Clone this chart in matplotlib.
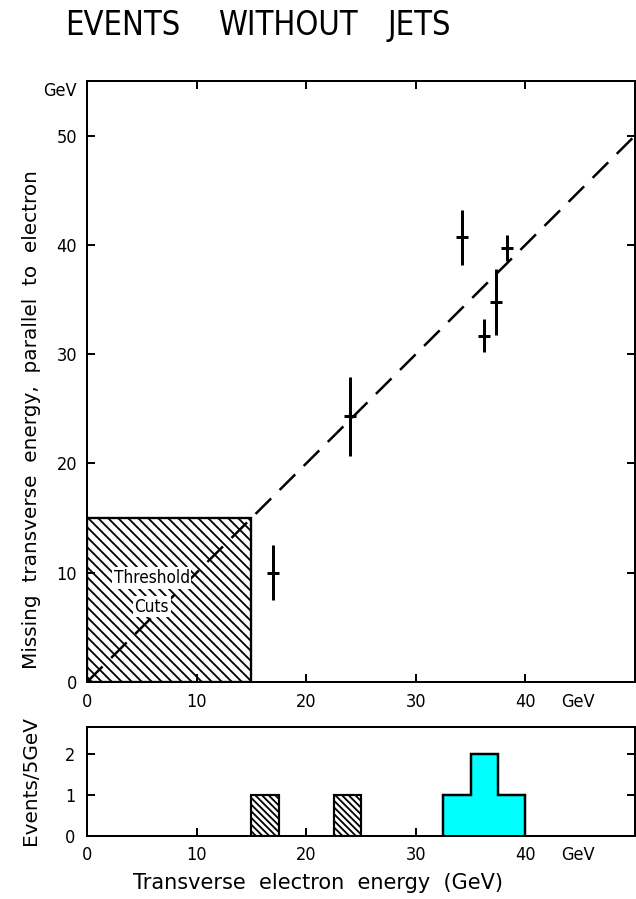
import matplotlib
matplotlib.use("Agg")
import matplotlib.pyplot as plt
import numpy as np

# ---------------- data ----------------
# scatter: transverse electron energy vs missing transverse energy (GeV)
ele_et = [17.0, 24.0, 34.2, 36.2, 37.3, 38.3]
miss_et = [10.0, 24.3, 40.7, 31.7, 34.8, 39.7]
miss_err = [2.5, 3.6, 2.5, 1.5, 3.0, 1.2]
ele_err = [0.55, 0.55, 0.55, 0.55, 0.55, 0.55]

# diagonal reference line
diag_x = [0, 50]
diag_y = [0, 50]

# threshold cut box (GeV)
cut_x = 15
cut_y = 15

# histogram: hatched (off-peak) and cyan (peak) bins
hatched_left = [15.0, 22.5]
hatched_counts = [1, 1]
bin_width = 2.5
peak_edges = [32.5, 35.0, 37.5, 40.0]
peak_counts = [1, 2, 1]

main_xticks = [0, 10, 20, 30, 40]
main_yticks = [0, 10, 20, 30, 40, 50]
hist_yticks = [0, 1, 2]

title_words = ["EVENTS", "WITHOUT", "JETS"]
ylabel_main = "Missing  transverse  energy,  parallel  to  electron"
ylabel_hist = "Events/5GeV"
xlabel_hist = "Transverse  electron  energy  (GeV)"

# ---------------- style ----------------
BS = chr(92)
DPI = 120
plt.rcParams['font.family'] = ['DejaVu Sans']
plt.rcParams['font.stretch'] = 'condensed'
plt.rcParams['hatch.linewidth'] = 1.1
plt.rcParams['axes.linewidth'] = 1.2

fig = plt.figure(figsize=(636 / DPI, 899 / DPI), dpi=DPI)
W, H = 636.0, 899.0

ax = fig.add_axes([87 / W, (H - 682) / H, 548 / W, (682 - 81) / H])
axh = fig.add_axes([87 / W, (H - 836) / H, 548 / W, (836 - 727) / H])

tick_fs = 10.8

# ---- main panel ----
ax.set_xlim(0, 50)
ax.set_ylim(0, 55)
ax.add_patch(plt.Rectangle((0, 0), cut_x, cut_y, facecolor='white',
                           edgecolor='black', hatch=BS * 4, lw=1.4, zorder=1))
ax.plot(diag_x, diag_y, color='black', lw=1.5, dashes=(8.8, 4.8), zorder=2)
ax.errorbar(ele_et, miss_et, yerr=miss_err, xerr=ele_err, fmt='none',
            ecolor='black', elinewidth=1.8, capsize=0, zorder=3)
for txt, yy in [("Threshold", 9.5), ("Cuts", 6.9)]:
    ax.text(5.9, yy, txt, ha='center', va='center', fontsize=10.3, zorder=4,
            bbox=dict(facecolor='white', edgecolor='none', pad=1.0))

ax.set_xticks(main_xticks)
ax.set_xticklabels([str(v) for v in main_xticks])
ax.set_yticks(main_yticks)
ax.set_yticklabels([str(v) for v in main_yticks])
ax.tick_params(axis='both', direction='in', length=4.8, width=1.2,
               labelsize=tick_fs, top=True, right=True)
ax.tick_params(axis='x', pad=6.6)
ax.tick_params(axis='y', pad=6.0)
ax.annotate("GeV", xy=(44.8, 0), xycoords=('data', 'axes fraction'),
            xytext=(0, -6.6), textcoords='offset points', ha='center',
            va='top', fontsize=tick_fs)
ax.annotate("GeV", xy=(0, 54.1), xycoords=('axes fraction', 'data'),
            xytext=(-6, 0), textcoords='offset points', ha='right',
            va='center', fontsize=tick_fs)

# ---- histogram panel ----
axh.set_xlim(0, 50)
axh.set_ylim(0, 2.66)
axh.bar(hatched_left, hatched_counts, width=bin_width, align='edge',
        facecolor='white', edgecolor='black', hatch=BS * 6, lw=1.3,
        zorder=2)
axh.stairs(peak_counts, peak_edges, fill=True, facecolor='#00ffff',
           edgecolor='black', lw=1.3, zorder=2)
axh.stairs(peak_counts, peak_edges, fill=False, color='black', lw=1.4,
           zorder=3)
axh.set_xticks(main_xticks)
axh.set_xticklabels([str(v) for v in main_xticks])
axh.set_yticks(hist_yticks)
axh.set_yticklabels([str(v) for v in hist_yticks])
axh.tick_params(axis='both', direction='in', length=4.8, width=1.2,
                labelsize=tick_fs, right=True)
axh.tick_params(axis='x', pad=6.0)
axh.tick_params(axis='y', pad=7.0)
axh.annotate("GeV", xy=(44.8, 0), xycoords=('data', 'axes fraction'),
             xytext=(0, -6.0), textcoords='offset points', ha='center',
             va='top', fontsize=tick_fs)

# ---- labels ----
for word, xpx in zip(title_words, [65, 218, 387]):
    fig.text(xpx / W, (H - 35) / H, word, ha='left', va='baseline',
             fontsize=19.5)
fig.text(32 / W, (H - 420) / H, ylabel_main, rotation=90, ha='center',
         va='center', fontsize=12, fontstretch='normal')
fig.text(31 / W, (H - 781) / H, ylabel_hist, rotation=90, ha='center',
         va='center', fontsize=12, fontstretch='normal')
fig.text(318 / W, (H - 883) / H, xlabel_hist, ha='center', va='center',
         fontsize=12.5, fontstretch='normal')

fig.savefig("out.png", dpi=DPI)
